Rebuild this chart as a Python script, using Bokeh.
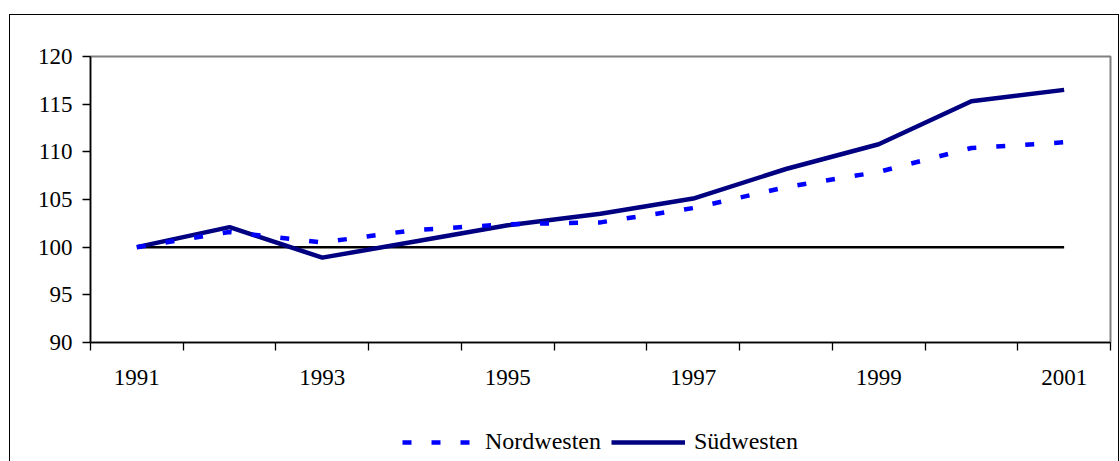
from bokeh.plotting import figure
from bokeh.layouts import column
from bokeh.models import FixedTicker, Range1d, Legend, LegendItem
from bokeh.embed import file_html
from bokeh.resources import INLINE

years = [1991, 1992, 1993, 1994, 1995, 1996, 1997, 1998, 1999, 2000, 2001]
nordwesten = [100.0, 101.6, 100.5, 101.8, 102.4, 102.6, 104.1, 106.3, 107.9, 110.4, 111.0]
suedwesten = [100.0, 102.1, 98.9, 100.6, 102.3, 103.5, 105.1, 108.2, 110.8, 115.3, 116.5]
basis = [100, 100, 100, 100, 100, 100, 100, 100, 100, 100, 100]
y_ticks = [90, 95, 100, 105, 110, 115, 120]
x_label_years = [1991, 1993, 1995, 1997, 1999, 2001]

FONT = "Liberation Serif"
NW_STYLE = dict(line_color="#0000FF", line_width=4.5, line_dash="9 20", line_cap="butt")
SW_STYLE = dict(line_color="#000080", line_width=4.5)

# main chart
p = figure(width=1108, height=397, output_backend="svg", toolbar_location=None,
           x_range=Range1d(years[0] - 0.5, years[-1] + 0.5),
           y_range=Range1d(90, 120),
           min_border_left=80, min_border_right=8, min_border_top=41, min_border_bottom=70)

p.xgrid.visible = False
p.ygrid.visible = False
p.outline_line_color = "#808080"
p.outline_line_width = 2
p.background_fill_color = "white"
p.border_fill_color = "white"

# x axis: labels on odd years, tick marks at category boundaries
p.xaxis.ticker = FixedTicker(ticks=x_label_years,
                             minor_ticks=[y - 0.5 for y in years] + [years[-1] + 0.5])
p.xaxis.major_tick_line_color = None
p.xaxis.minor_tick_line_color = "black"
p.xaxis.minor_tick_out = 8
p.xaxis.minor_tick_in = 0
p.xaxis.minor_tick_line_width = 1.3
p.xaxis.major_label_standoff = 19

p.yaxis.ticker = FixedTicker(ticks=y_ticks)
p.yaxis.minor_tick_line_color = None
p.yaxis.major_tick_out = 8
p.yaxis.major_tick_in = 0
p.yaxis.major_tick_line_width = 1.3
p.yaxis.major_label_standoff = 10

for ax in (p.xaxis, p.yaxis):
    ax.axis_line_color = "black"
    ax.axis_line_width = 1.5
    ax.major_label_text_font = FONT
    ax.major_label_text_font_size = "23px"
    ax.major_label_text_color = "black"

p.line(years, basis, line_color="black", line_width=2.5)
p.line(years, suedwesten, **SW_STYLE)
p.line(years, nordwesten, **NW_STYLE)

# legend strip below the chart (series drawn outside its visible range,
# so only the legend shows)
lg = figure(width=1108, height=49, output_backend="svg", toolbar_location=None,
            x_axis_type=None, y_axis_type=None,
            x_range=Range1d(0, 1), y_range=Range1d(0, 1),
            min_border_left=0, min_border_right=0, min_border_top=0, min_border_bottom=0)
lg.xgrid.visible = False
lg.ygrid.visible = False
lg.outline_line_color = None
lg.background_fill_color = "white"
lg.border_fill_color = "white"
r_sw = lg.line(years, suedwesten, **SW_STYLE)
r_nw = lg.line(years, nordwesten, **NW_STYLE)

legend = Legend(items=[LegendItem(label="Nordwesten", renderers=[r_nw]),
                       LegendItem(label="Südwesten", renderers=[r_sw])],
                orientation="horizontal", location=(312, 6),
                border_line_color=None, background_fill_alpha=0,
                padding=0, margin=0, glyph_width=74, glyph_height=20,
                label_standoff=9, spacing=10,
                label_text_font=FONT, label_text_font_size="24px",
                label_text_color="black")
lg.add_layout(legend)

layout = column(p, lg, spacing=0,
                styles={"outline": "1.5px solid black", "outline-offset": "0px",
                        "margin-top": "15px", "margin-left": "10px"})

open("out.html", "w").write(file_html(layout, INLINE))
